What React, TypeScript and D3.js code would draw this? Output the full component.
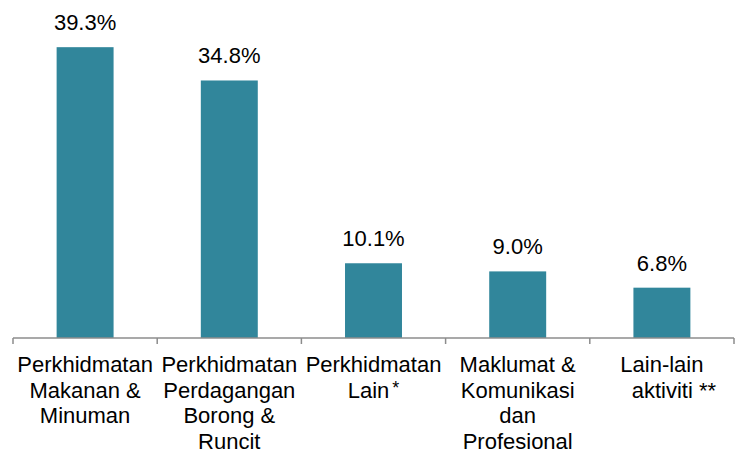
import React from "react";
import * as d3 from "d3";

const categories = [
  "Perkhidmatan Makanan & Minuman",
  "Perkhidmatan Perdagangan Borong & Runcit",
  "Perkhidmatan Lain*",
  "Maklumat & Komunikasi dan Profesional",
  "Lain-lain aktiviti **",
];
const categoryLines: string[][] = [
  ["Perkhidmatan", "Makanan &", "Minuman"],
  ["Perkhidmatan", "Perdagangan", "Borong &", "Runcit"],
  ["Perkhidmatan", "Lain"],
  ["Maklumat &", "Komunikasi", "dan", "Profesional"],
  ["Lain-lain", "aktiviti **"],
];
const values = [39.3, 34.8, 10.1, 9.0, 6.8];
const valueLabels = ["39.3%", "34.8%", "10.1%", "9.0%", "6.8%"];

const W = 739;
const H = 452;
const BAR_COLOR = "#31869B";
const AXIS_COLOR = "#8C8C8C";
const FONT = "'Liberation Sans', Arial, sans-serif";

export default function App() {
  const x = d3.scaleBand<string>().domain(categories).range([13, 734]).padding(0);
  const y = d3.scaleLinear().domain([0, 40]).range([338, 42]);
  const bw = x.bandwidth() * 0.395;
  const base = y(0);
  const ticks = categories.map((c) => x(c)!).concat([x.range()[1]]);

  return (
    <svg
      width={W}
      height={H}
      style={{ position: "absolute", left: 0, top: 0, background: "#fff" }}
      fontFamily={FONT}
    >
      {categories.map((c, i) => {
        const cx = x(c)! + x.bandwidth() / 2;
        return (
          <g key={c}>
            <rect
              x={cx - bw / 2}
              y={y(values[i])}
              width={bw}
              height={base - y(values[i])}
              fill={BAR_COLOR}
            />
            <text
              x={cx}
              y={y(values[i]) - 17}
              textAnchor="middle"
              fontSize={22}
              fill="#000"
            >
              {valueLabels[i]}
            </text>
            <text textAnchor="middle" fontSize={22} fill="#000">
              {categoryLines[i].map((ln, j) => {
                const isLain = i === 2 && j === 1;
                const isAkt = i === 4 && j === 1;
                return (
                  <tspan key={j} x={cx + (isAkt ? 12 : 0)} y={base + 34 + j * 25.5}>
                    {ln}
                    {isLain ? (
                      <tspan fontSize={18} dy={-4} dx={3}>
                        *
                      </tspan>
                    ) : null}
                  </tspan>
                );
              })}
            </text>
          </g>
        );
      })}
      <line x1={13} x2={734} y1={base} y2={base} stroke={AXIS_COLOR} strokeWidth={1.5} />
      {ticks.map((t, i) => (
        <line key={i} x1={t} x2={t} y1={base} y2={base + 6} stroke={AXIS_COLOR} strokeWidth={1.5} />
      ))}
    </svg>
  );
}
